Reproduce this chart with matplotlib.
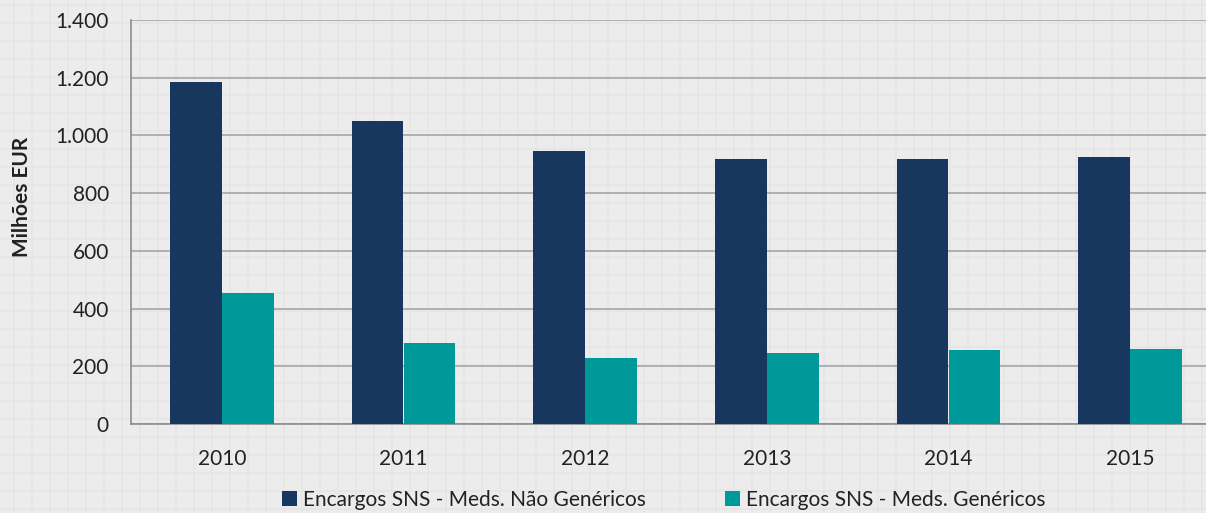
import matplotlib
matplotlib.use("Agg")
import matplotlib.pyplot as plt
import numpy as np
from matplotlib.ticker import FuncFormatter
from matplotlib.patches import Patch

years = ["2010", "2011", "2012", "2013", "2014", "2015"]
nao_genericos = [1185, 1050, 946, 918, 918, 925]
genericos = [454, 281, 229, 246, 256, 260]
series_names = ["Encargos SNS - Meds. Não Genéricos", "Encargos SNS - Meds. Genéricos"]
colors = ["#17375e", "#009999"]

plt.rcParams['font.family'] = ['Lato', 'DejaVu Sans']

W, H = 1206, 513
fig = plt.figure(figsize=(W / 100, H / 100), dpi=100)
bg = "#ececec"
fig.patch.set_facecolor(bg)

# faint background pattern
bgax = fig.add_axes([0, 0, 1, 1], zorder=-10)
bgax.set_xlim(0, W)
bgax.set_ylim(H, 0)
bgax.axis('off')
for xx in np.arange(14, W, 18):
    bgax.axvline(xx, color="#e6e6e6", lw=1.3)
for yy in np.arange(5, H, 18):
    bgax.axhline(yy, color="#e6e6e6", lw=1.3)

left, right, top, bottom = 131, 1221, 20, 424
ax = fig.add_axes([left / W, 1 - bottom / H, (right - left) / W, (bottom - top) / H])
ax.set_facecolor("none")

x = np.arange(len(years))
w = 0.286
ax.bar(x - w / 2, nao_genericos, width=w, color=colors[0], zorder=3)
ax.bar(x + w / 2, genericos, width=w, color=colors[1], zorder=3)

ax.set_xlim(-0.5, len(years) - 0.5)
ax.set_ylim(0, 1400)
ax.set_yticks(np.arange(0, 1401, 200))
ax.yaxis.set_major_formatter(FuncFormatter(lambda v, p: f"{int(v):,}".replace(",", ".")))
ax.set_xticks(x)
ax.set_xticklabels(years)
ax.grid(axis='y', color="#a6a6a6", lw=1.2, zorder=1)
ax.tick_params(axis='both', length=0, labelsize=15, colors="#222222")
ax.tick_params(axis='x', pad=18)
ax.tick_params(axis='y', pad=16)
for s in ["top", "right"]:
    ax.spines[s].set_visible(False)
ax.spines["left"].set_color("#8c8c8c")
ax.spines["bottom"].set_color("#8c8c8c")
ax.spines["left"].set_linewidth(1.2)
ax.spines["bottom"].set_linewidth(1.2)

fig.text(22 / W, 1 - 197 / H, "Milhões EUR", rotation=90, ha="center", va="center",
         fontsize=15, fontweight="bold", color="#222222")

handles = [Patch(facecolor=c) for c in colors]
fig.legend(handles, series_names, loc="center", bbox_to_anchor=(664 / W, 1 - 500 / H),
           ncol=2, frameon=False, fontsize=15, handlelength=0.7, handleheight=0.7,
           handletextpad=0.3, columnspacing=3.8, labelcolor="#222222")

fig.savefig("out.png", dpi=100, facecolor=fig.get_facecolor())
